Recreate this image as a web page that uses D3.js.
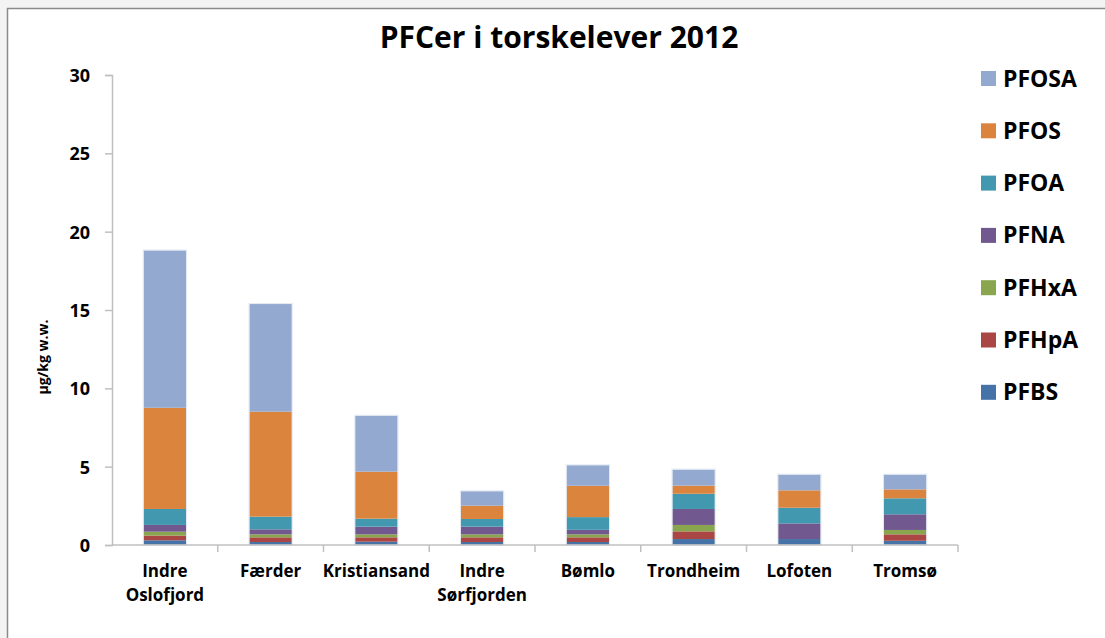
<!DOCTYPE html>
<html><head><meta charset="utf-8">
<script src="https://cdn.jsdelivr.net/npm/d3@7"></script>
<style>
html,body{margin:0;padding:0;background:#f3f3f3;}
svg{display:block;}
text{font-family:"Open Sans",Lato,sans-serif;font-weight:bold;fill:#000;}
</style></head>
<body>
<svg id="chart" width="1105" height="638"></svg>
<script>
const categories = ["Indre Oslofjord","Færder","Kristiansand","Indre Sørfjorden","Bømlo","Trondheim","Lofoten","Tromsø"];
const seriesNames = ["PFBS","PFHpA","PFHxA","PFNA","PFOA","PFOS","PFOSA"];
const PFBS  = [0.30,0.19,0.21,0.19,0.19,0.38,0.38,0.27];
const PFHpA = [0.30,0.30,0.28,0.30,0.30,0.49,0.00,0.41];
const PFHxA = [0.25,0.19,0.19,0.19,0.19,0.41,0.00,0.28];
const PFNA  = [0.43,0.32,0.49,0.49,0.29,1.02,1.00,1.00];
const PFOA  = [1.02,0.81,0.51,0.49,0.81,0.97,1.00,1.02];
const PFOS  = [6.46,6.70,3.00,0.85,2.00,0.52,1.11,0.57];
const PFOSA = [10.04,6.87,3.57,0.92,1.31,1.02,1.00,0.94];
const yTicks = [0,5,10,15,20,25,30];
const colors = ["#4572A7","#AA4643","#89A54E","#71588F","#4198AF","#DB843D","#93A9CF"];

(function(){
const seriesValues = [PFBS,PFHpA,PFHxA,PFNA,PFOA,PFOS,PFOSA];
const table = categories.map((c,i)=>{
  const row = {cat:c};
  seriesNames.forEach((s,j)=>row[s]=seriesValues[j][i]);
  return row;
});

const svg = d3.select("#chart");
svg.append("rect").attr("x",7.5).attr("y",8.5).attr("width",1105).attr("height",638)
  .attr("fill","#fff").attr("stroke","#8a8a8a").attr("stroke-width",1.5);

const mL=112, mR=958, mT=75, mB=545;
const x = d3.scaleBand().domain(categories).range([mL,mR]).paddingInner(0.6).paddingOuter(0.3);
const xb = d3.scaleBand().domain(categories).range([mL,mR]);
const y = d3.scaleLinear().domain([0,30]).range([mB,mT]);

const stack = d3.stack().keys(seriesNames)(table);
const color = d3.scaleOrdinal().domain(seriesNames).range(colors);

svg.append("g").selectAll("g").data(stack).join("g")
  .attr("fill",d=>color(d.key))
  .selectAll("rect").data(d=>d).join("rect")
  .attr("x",d=>x(d.data.cat))
  .attr("width",x.bandwidth())
  .attr("y",d=>y(d[1]))
  .attr("height",d=>Math.max(0,y(d[0])-y(d[1])));

svg.append("g").selectAll("rect").data(table).join("rect")
  .attr("x",d=>x(d.cat)-0.5).attr("width",x.bandwidth()+1)
  .attr("y",d=>y(d3.sum(seriesNames,s=>d[s]))-0.5)
  .attr("height",d=>y(0)-y(d3.sum(seriesNames,s=>d[s]))+0.5)
  .attr("fill","none").attr("stroke","rgba(220,228,240,0.8)").attr("stroke-width",1);

const yAxis = svg.append("g").attr("transform",`translate(${mL},0)`)
  .call(d3.axisLeft(y).tickValues(yTicks).tickSize(7).tickPadding(15));
yAxis.select(".domain").attr("stroke","#c0c0c0").attr("stroke-width",1.5);
yAxis.selectAll(".tick line").attr("stroke","#c0c0c0").attr("stroke-width",1.5);
yAxis.selectAll(".tick text").style("font-size","18px").style("font-family","'Open Sans'").style("font-weight","bold").attr("fill","#000").attr("dy","0.36em");

const xAxis = svg.append("g").attr("transform",`translate(0,${mB})`);
xAxis.append("line").attr("x1",mL).attr("x2",mR).attr("stroke","#c0c0c0").attr("stroke-width",1.5);
const boundaries = categories.map(c=>xb(c)+xb.bandwidth());
xAxis.selectAll("line.t").data(boundaries).join("line").attr("class","t")
  .attr("x1",d=>d).attr("x2",d=>d).attr("y1",0).attr("y2",7)
  .attr("stroke","#c0c0c0").attr("stroke-width",1.5);

const xl = svg.append("g").selectAll("text").data(categories).join("text")
  .attr("x",c=>xb(c)+xb.bandwidth()/2).attr("y",577)
  .attr("text-anchor","middle").style("font-size","17px");
xl.each(function(c){
  const parts = c.split(" ");
  const t = d3.select(this);
  parts.forEach((p,i)=>t.append("tspan").attr("x",xb(c)+xb.bandwidth()/2).attr("dy",i?24:0).text(p));
});

svg.append("text").attr("transform","translate(48,357) rotate(-90)")
  .attr("text-anchor","middle").style("font-size","14px").text("µg/kg w.w.");

svg.append("text").attr("x",559).attr("y",48).attr("text-anchor","middle")
  .style("font-size","30px").text("PFCer i torskelever 2012");

const legOrder = seriesNames.slice().reverse();
const lg = svg.append("g").selectAll("g").data(legOrder).join("g")
  .attr("transform",(d,i)=>`translate(981,${71+i*52.3})`);
lg.append("rect").attr("width",15).attr("height",15).attr("fill",d=>color(d));
lg.append("text").attr("x",22).attr("y",15.5).style("font-size","23px").text(d=>d);
})();
</script>
</body></html>
